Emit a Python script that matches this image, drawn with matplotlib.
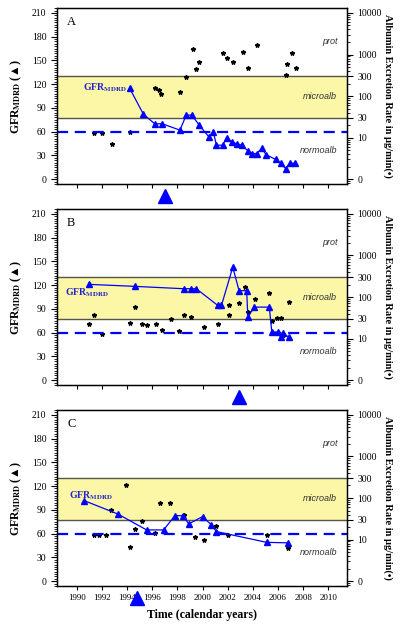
import numpy as np
import matplotlib
matplotlib.use("Agg")
import matplotlib.pyplot as plt
import matplotlib.ticker as pltTicker

plt.rcParams['font.family'] = ['Liberation Serif', 'DejaVu Serif']
plt.rcParams['mathtext.fontset'] = 'stix'

# MARK: Data

years = list(range(1990, 2011, 2))

# panel A
a_gfr_years = [1994.2, 1995.3, 1996.2, 1996.8, 1998.2, 1998.7, 1999.15, 1999.7,
               2000.5, 2000.85, 2001.1, 2001.6, 2001.9, 2002.3, 2002.7, 2003.1,
               2003.6, 2003.9, 2004.3, 2004.7, 2005.05, 2005.8, 2006.2, 2006.6,
               2006.95, 2007.35]
a_gfr = [115, 82, 70, 70, 62, 81, 81, 69, 53.5, 60, 43, 43, 52.7, 47, 45, 43,
         36, 32.5, 32.5, 39, 31, 25, 20, 13.5, 20.6, 20]
a_alb_years = [1991.4, 1992.0, 1992.8, 1994.2, 1996.2, 1996.5, 1996.7, 1998.2,
               1998.7, 1999.2, 1999.5, 1999.7, 2001.65, 2001.9, 2002.4, 2003.2,
               2003.6, 2004.3, 2006.6, 2006.7, 2007.1, 2007.4]
a_alb = [13.3, 13.3, 7.2, 13.9, 154, 140, 112, 127, 292, 1334, 440, 671,
         1070, 810, 650, 1170, 473, 1695, 327, 590, 1070, 473]

# panel B
b_gfr_years = [1991.0, 1994.6, 1998.5, 1999.1, 1999.5, 2001.2, 2001.5, 2002.4,
               2002.9, 2003.5, 2003.6, 2004.1, 2005.3, 2005.5, 2006.0, 2006.2,
               2006.4, 2006.85]
b_gfr = [121, 118.5, 115.5, 115.5, 115.5, 94.5, 94.5, 142.7, 113, 113, 79.7,
         92.3, 92.3, 60.8, 60.8, 54, 60, 54]
b_alb_years = [1991.0, 1991.4, 1992.0, 1994.2, 1994.6, 1995.2, 1995.6, 1996.3,
               1996.8, 1997.5, 1998.1, 1998.5, 1999.1, 2000.1, 2001.2, 2002.1,
               2002.1, 2002.9, 2003.4, 2003.6, 2004.2, 2005.3, 2005.5, 2005.9,
               2006.2, 2006.4, 2006.85]
b_alb = [22, 37.7, 12.7, 23.7, 57, 22, 21.5, 22, 16.4, 30, 15, 38, 33, 18.6,
         23, 65, 37.7, 73, 173, 43, 88, 127, 26.5, 31, 31, 12, 75]

# panel C
c_gfr_years = [1990.6, 1993.25, 1995.55, 1996.9, 1997.8, 1998.45, 1998.9,
               2000.0, 2000.7, 2001.1, 2005.1, 2006.8]
c_gfr = [101.6, 84.9, 64.7, 64.7, 82.7, 82.7, 72.3, 81.5, 71, 62.6, 49, 48.4]
c_alb_years = [1991.4, 1991.8, 1992.3, 1992.75, 1993.9, 1994.2, 1994.6, 1995.2,
               1996.25, 1996.6, 1997.4, 1998.5, 1999.4, 2000.1, 2001.1, 2002.0,
               2005.1, 2006.8]
c_alb = [13.2, 13.2, 13.2, 51.6, 209, 6.5, 18, 27.5, 14.2, 77, 77, 39, 11.8,
         9.8, 21.5, 13, 13, 6.2]

event_years = [1997.0, 2002.9, 1994.8]
panel_letters = ["A", "B", "C"]

alb_ticks = [1, 10, 30, 100, 300, 1000, 10000]
alb_tick_labels = ["0", "10", "30", "100", "300", "1000", "10000"]

# MARK: Layout

BLUE = "#0000ff"
YELLOW = "#fbf7a6"
GFR_MIN, GFR_MAX = -6, 216
LOG_PER_GFR = 4 / 210  # 0..210 GFR spans 4 decades of albumin

panels = [
    (a_gfr_years, a_gfr, a_alb_years, a_alb, (1990.5, 116)),
    (b_gfr_years, b_gfr, b_alb_years, b_alb, (1989.1, 111)),
    (c_gfr_years, c_gfr, c_alb_years, c_alb, (1989.4, 108)),
]
bottoms = [0.707, 0.387, 0.067]

fig = plt.figure(figsize=(4.0, 6.28), dpi=100)

for i, (gx, gy, ax_years, alb, gfr_txt) in enumerate(panels):
    ax = fig.add_axes([0.1425, bottoms[i], 0.7245, 0.28])
    ax2 = ax.twinx()

    ax.set_xlim(1988.43, 2011.46)
    ax.set_ylim(GFR_MIN, GFR_MAX)
    ax2.set_yscale("log")
    ax2.set_ylim(10 ** (GFR_MIN * LOG_PER_GFR), 10 ** (GFR_MAX * LOG_PER_GFR))

    # microalbuminuria band
    ax2.axhspan(30, 300, color=YELLOW, zorder=0)
    ax2.axhline(30, color="#555555", lw=1.0, zorder=1)
    ax2.axhline(300, color="#555555", lw=1.0, zorder=1)
    ax.axhline(60, color=BLUE, lw=1.6, ls=(0, (5, 3)), zorder=2)
    ax.set_zorder(ax2.get_zorder() + 1)
    ax.patch.set_visible(False)

    ax.plot(gx, gy, color=BLUE, lw=0.9, marker="^", ms=5, zorder=4)
    ax2.plot(ax_years, alb, ls="none", marker="*", ms=3.2, color="black", zorder=3)

    ax.plot(event_years[i], -0.068, marker="^", ms=10.5, color=BLUE,
            transform=ax.get_xaxis_transform(), clip_on=False, zorder=10)

    ax.text(gfr_txt[0], gfr_txt[1], r"GFR$_{\mathbf{MDRD}}$", color="#2222cc",
            fontsize=7, fontweight="bold", ha="left", va="center")
    ax.text(0.035, 0.92, panel_letters[i], transform=ax.transAxes,
            fontsize=9, ha="left", va="center")
    for label, val in [("prot", 2000), ("microalb", 100), ("normoalb", 4.8)]:
        ax2.text(2010.7, val, label, fontsize=6.5, style="italic",
                 family="Liberation Sans", color="#333333", ha="right", va="center")

    # axes and ticks
    ax.set_xticks(years)
    ax.tick_params(axis="x", direction="out", length=3, labelsize=6.5, pad=3)
    if i < 2:
        ax.set_xticklabels([])
    else:
        ax.set_xlabel("Time (calendar years)", fontsize=8.5, fontweight="bold",
                      labelpad=5)
    ax.yaxis.set_major_locator(pltTicker.MultipleLocator(30))
    ax.yaxis.set_minor_locator(pltTicker.MultipleLocator(3))
    ax.tick_params(axis="y", which="major", direction="out", length=4, labelsize=7)
    ax.tick_params(axis="y", which="minor", direction="out", length=2)
    ax.set_ylabel(r"GFR$_{\mathbf{MDRD}}$ (▲)", fontsize=8.5, fontweight="bold",
                  labelpad=6)

    ax2.yaxis.set_major_locator(pltTicker.FixedLocator(alb_ticks))
    ax2.yaxis.set_major_formatter(pltTicker.FixedFormatter(alb_tick_labels))
    ax2.yaxis.set_minor_locator(pltTicker.LogLocator(base=10, subs=np.arange(2, 10)))
    ax2.yaxis.set_minor_formatter(pltTicker.NullFormatter())
    ax2.tick_params(axis="y", which="major", direction="out", length=4, labelsize=7)
    ax2.tick_params(axis="y", which="minor", direction="out", length=2)
    ax2.set_ylabel("Albumin Excretion Rate in µg/min(•)", fontsize=7.5,
                   fontweight="bold", rotation=270, labelpad=8)

    for sp in ax.spines.values():
        sp.set_linewidth(1.0)

fig.savefig("out.png", dpi=100)
plt.close(fig)
